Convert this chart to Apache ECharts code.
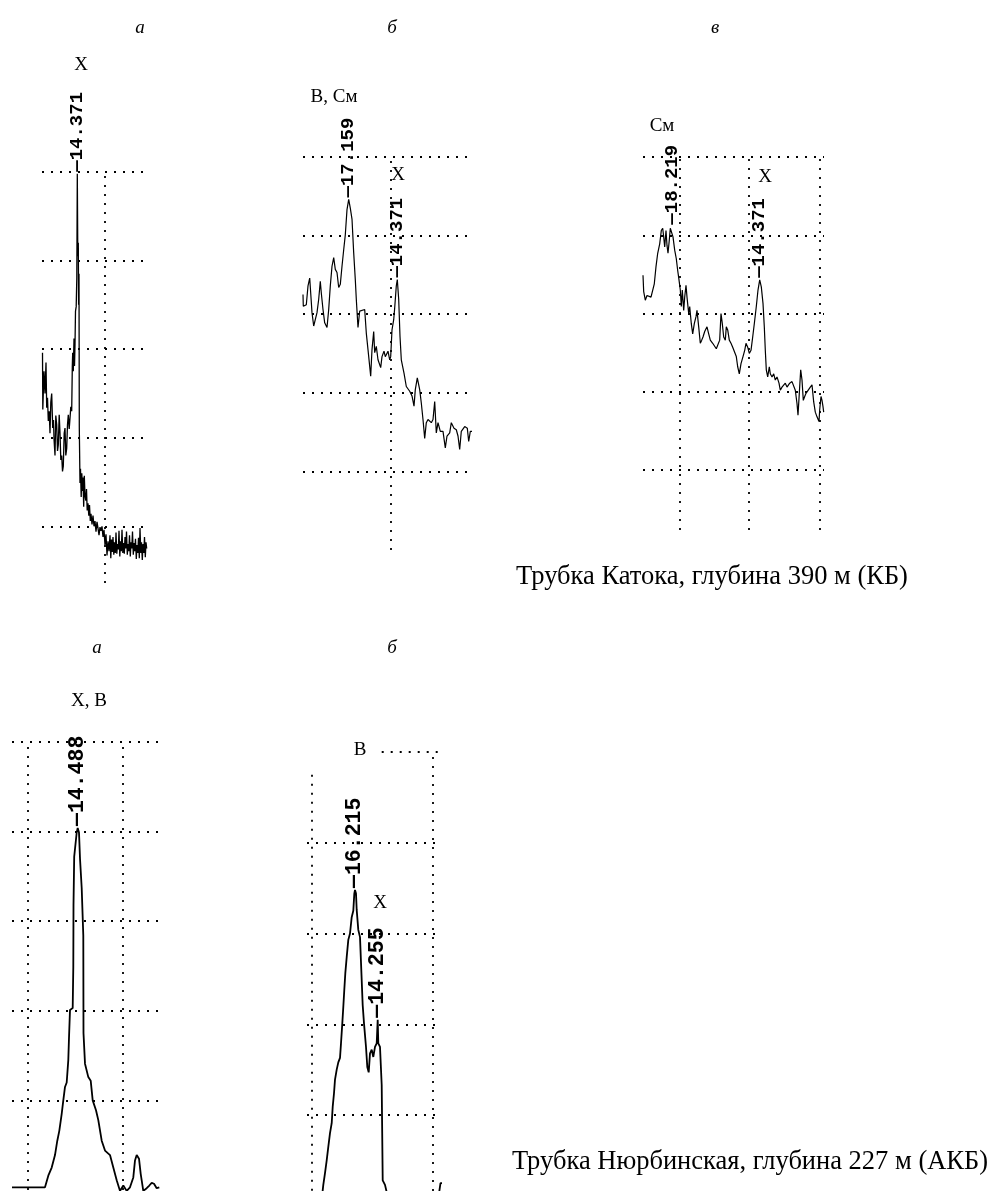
<!DOCTYPE html>
<html><head><meta charset="utf-8">
<script src="https://cdn.jsdelivr.net/npm/echarts@6/dist/echarts.min.js"></script>
<style>html,body{margin:0;padding:0;background:#fff}#c{width:995px;height:1191px}</style>
</head><body><div id="c"></div>
<script>
// ---- DATA (channel, intensity in relative units) ----
// Трубка Катока, а
const katokaA = [[0.5,29.6],[0.8,23.2],[2,27.5],[3,25.0],[4,28.5],[4.7,23.4],[5.5,24.5],[6.3,21.9],[7.2,23.0],[8,20.5],[8.8,24.0],[9.7,25.0],[10.7,21.1],[11.5,22.0],[12,19.9],[13,18.0],[13.8,22.5],[14.7,21.5],[15.5,18.5],[16.3,19.2],[17.2,22.6],[18,20.5],[18.8,17.5],[19.7,18.0],[20.5,16.2],[21.3,16.8],[22.2,20.5],[23,21.1],[23.8,18.0],[24.7,18.8],[25.5,21.5],[26.3,22.6],[27.2,21.0],[28,22.2],[28.8,23.5],[29.7,23.0],[30.3,28.0],[30.7,29.6],[31.3,27.5],[32,31.2],[32.5,28.1],[33,30.5],[33.5,34.3],[34.2,34.8],[34.8,38],[35.3,49.8],[35.8,40.5],[36.3,42.0],[36.6,35.0],[37,38.5],[37.3,21.1],[38,14.9],[38.5,16.5],[39.2,13.3],[39.8,16.0],[40.5,14.0],[41,15.5],[41.7,12.2],[42.3,15.7],[43,13.5],[43.8,12.9],[44.5,14.2],[45.2,11.8],[46,12.6],[46.8,11.2],[47.5,12.4],[48.3,10.6],[49,11.4],[50,10.2],[51,11.2],[52,10.0],[53,10.6],[54,9.4],[55,10.5],[56,9.8],[57,9.0],[58,9.9],[59,9.5],[60,10.0],[61,8.8],[62,9.6],[63,7.9],[64,9.1],[65,6.7],[66,8.3],[67,7.2],[68,9.0],[68.8,6.4],[69.5,8.5],[70.3,7.1],[71,8.8],[71.8,6.8],[72.5,8.2],[73.3,7.0],[74,9.3],[74.8,6.9],[75.5,8.0],[76.3,7.4],[77,9.5],[77.8,6.6],[78.5,8.3],[79.3,7.2],[80,9.6],[80.8,7.0],[81.5,8.1],[82.3,6.9],[83,8.8],[83.8,7.5],[84.5,9.4],[85.3,6.8],[86,8.0],[86.8,7.2],[87.5,9.0],[88.3,6.6],[89,8.2],[89.8,7.5],[90.5,9.4],[91.3,6.8],[92,8.1],[92.8,7.2],[93.5,8.6],[94.3,6.3],[95,7.9],[95.8,7.0],[96.5,8.7],[97.3,6.4],[98,9.8],[98.8,7.0],[99.5,8.2],[100.3,6.2],[101,8.0],[101.8,7.0],[102.5,8.8],[103.3,6.5],[104,8.2],[104.7,7.5]];
// Трубка Катока, б
const katokaB = [[0,32.5],[0.3,31.0],[3.3,31.2],[5,33.6],[6.7,34.6],[7.7,32.7],[9,30.2],[10.7,28.5],[12.3,28.5],[14,30.2],[15.7,31.9],[17.3,34.2],[18.3,32.7],[20,30.6],[21.7,28.9],[24,28.3],[25.7,30.6],[27.3,33.6],[29,36.1],[30.7,37.2],[32.3,35.7],[34,35.3],[35.7,33.4],[37.3,33.8],[39,36.1],[40.7,38.2],[42.3,40.1],[44,43.3],[45.7,44.6],[47.3,43.5],[49,42.1],[50.7,37.8],[52.3,34.4],[53.3,31.9],[55,28.3],[56.7,30.4],[58.3,30.6],[61.7,30.6],[63.3,27.6],[65,25.5],[67.7,22.1],[69,25.5],[70.7,27.8],[71.7,25.1],[73.3,25.9],[75,24.2],[77.7,23.2],[79,24.6],[81,25.3],[82.3,24.6],[85,25.3],[86.7,24.2],[87.7,24.6],[89,28.0],[90.7,29.3],[91.7,30.8],[93.3,33.6],[94.3,34.4],[95.7,31.9],[97,27.2],[98.3,24.2],[101,22.5],[103.3,20.8],[106.7,20.2],[109,19.6],[111,18.3],[112.3,20.4],[114.3,21.9],[116.7,20.4],[118.3,18.7],[120,16.6],[121.7,14.2],[123.3,16.2],[125,16.6],[128.3,16.2],[130,16.6],[131.7,18.9],[133.3,14.9],[135,16.2],[137.3,15.1],[140,15.1],[142.3,13.0],[144,14.5],[146.7,14.9],[148.3,16.2],[151,15.5],[153.3,15.3],[155,14.5],[156.7,12.8],[158.3,15.1],[160,15.3],[161.7,15.7],[164.3,15.5],[165.7,13.8],[167.3,15.1],[169,15.1]];
// Трубка Катока, в
const katokaV = [[0,34.9],[0.7,32.8],[2.3,31.7],[4,32.3],[5.7,32.1],[8,32.1],[10,32.3],[11.3,33.8],[13,36.0],[14.7,37.7],[16.7,38.9],[18.3,40.6],[19.7,40.9],[20.7,39.8],[21.7,38.5],[23,40.6],[24,38.7],[25,37.7],[26.3,39.4],[27.3,40.9],[29,41.1],[30,39.8],[31.7,38.1],[33.3,37.0],[34.7,35.5],[36,34.3],[37.3,33.0],[38.3,30.9],[39.3,33.0],[40.7,30.4],[41.7,32.1],[43,33.6],[44,32.1],[45.7,30.0],[46.7,30.9],[48.3,28.7],[49.7,27.4],[51.3,28.7],[53,29.6],[54,30.4],[55.7,28.3],[57.3,26.2],[58.7,26.6],[60,27.0],[61.7,27.7],[64,28.3],[65.7,27.4],[67.3,26.6],[69.7,26.2],[71.3,26.0],[73.3,25.5],[75.3,25.3],[76.7,26.6],[78,30.0],[79.3,28.7],[80.7,27.0],[82.3,26.6],[83.3,28.3],[84.7,27.9],[86.3,26.6],[88,26.2],[89.7,25.7],[91.3,25.5],[93.3,24.5],[94.7,23.2],[96.3,22.3],[98,23.6],[100,24.5],[101.7,25.3],[103,26.2],[104.7,25.7],[106.3,24.9],[108,25.3],[109.7,27.0],[111.3,28.7],[113.3,30.9],[115,33.0],[116.7,34.3],[118.3,33.4],[120,31.3],[121.3,28.3],[122.3,25.3],[123.3,22.8],[124.7,21.9],[126.3,23.2],[127.3,22.3],[129,21.9],[130.7,22.3],[132.3,21.5],[134,21.9],[136,21.1],[137.3,20.2],[139,20.6],[140.7,20.6],[142.3,21.1],[144,20.6],[146.7,21.1],[149,21.3],[150.7,21.1],[152.3,20.2],[154,18.5],[155,17.0],[156.3,19.8],[157.7,22.8],[159,21.5],[160.3,18.9],[161.7,19.4],[163,19.8],[165,19.6],[167.3,20.6],[169,20.9],[170.7,18.7],[172.3,17.4],[174,16.8],[176,16.2],[176.7,17.7],[178,19.4],[179,18.9],[180,18.1],[180.7,17.4]];
// Трубка Нюрбинская, а
const nyurbaA = [[0,0.3],[33,0.3],[36.3,1.6],[39.7,2.5],[43,3.9],[45.3,5.5],[47.3,6.6],[49.7,8.5],[51.3,10.0],[53,11.5],[54.7,12.0],[56.3,14.5],[57,17.0],[58,20.1],[60.7,20.3],[61.3,24.9],[61.5,31.8],[62,31.8],[62.2,37.2],[64,37.2],[64.7,39.9],[65.7,40.4],[67,39.9],[68,37.0],[69,37.0],[69.7,33.7],[70.7,33.5],[71.3,28.4],[71.5,17.5],[73,14.1],[76.3,12.6],[78.7,12.2],[80.7,10.0],[84,8.9],[86.3,7.8],[89.7,5.5],[93,4.4],[98,3.9],[101.3,2.5],[104.7,1.1],[108,-0.1],[111.3,0.5],[114.7,-0.1],[118,0.3],[121.3,1.4],[123,3.3],[124.7,3.9],[127,3.5],[128.7,1.8],[131.3,-0.1],[134.7,0.2],[137.3,0.5],[139.7,0.8],[142,0.7],[144.7,0.2],[147.3,0.3]];
// Трубка Нюрбинская, б
const nyurbaB = [[15.5,1.5],[16.3,2.3],[18,3.6],[19.7,5.0],[21.3,6.5],[23,8.0],[24.7,9.1],[25.7,10.9],[27,12.4],[28,13.9],[29.7,15.0],[31.3,15.8],[33,16.3],[34,17.9],[35.3,20.1],[36.3,21.9],[37.3,23.8],[38.3,25.6],[39.7,27.4],[41.3,29.3],[43,30.0],[44.7,31.8],[46.3,32.5],[47.3,34.4],[48,34.8],[49,34.4],[49.7,32.6],[51.3,30.4],[53,29.6],[54.7,29.5],[55.7,22.1],[57,20.1],[59,17.5],[60.3,15.3],[61.7,14.7],[63,16.8],[64.7,17.2],[66.3,16.4],[68,17.5],[69.7,17.9],[70.7,20.5],[71.3,17.9],[73,17.5],[74.7,13.3],[75.7,2.8],[78,2.3],[79.7,1.5],[83,0.6],[131,0.6],[133.5,2.5],[135,2.5]];

// Peak labels [channel, intensity, text]
const katokaAPeaks = [[35.3, 49.8, '14.371']];
const katokaBPeaks = [[45.7, 44.6, '17.159'], [94.3, 34.4, '14.371']];
const katokaVPeaks = [[29, 41.1, '18.219'], [116.7, 34.3, '14.371']];
const nyurbaAPeaks = [[65.7, 40.4, '14.488']];
const nyurbaBPeaks = [[48, 34.8, '16.215'], [70.7, 20.5, '14.255']];

// Grid line levels
const hLevels = [10, 20, 30, 40, 50];
const hLevelsNyurbaB = [10, 20, 30, 40];

// ---- LAYOUT ----
const dotted = {color:'#000', width:1.8, type:[2,7], cap:'butt'};
const topFont = 'bold 19px "Liberation Mono"';
const botFont = 'bold 21.5px "Liberation Mono"';
const panels = [
  {grid:{left:42, top:172, width:105, height:411}, x:[0,105], y:[3.6,50], data:katokaA, peaks:katokaAPeaks,
   h:hLevels, v:[63], segs:[], lw:1.3, pf:topFont},
  {grid:{left:303, top:157, width:170, height:393}, x:[0,170], y:[0,50], data:katokaB, peaks:katokaBPeaks,
   h:hLevels, v:[87.3], segs:[], lw:1.2, pf:topFont},
  {grid:{left:643, top:157, width:181, height:373}, x:[0,181], y:[2.34,50], data:katokaV, peaks:katokaVPeaks,
   h:hLevels, v:[36.7,105.7,176.7], segs:[], lw:1.2, pf:topFont},
  {grid:{left:12, top:742, width:148, height:448}, x:[0,148], y:[0,50], data:nyurbaA, peaks:nyurbaAPeaks,
   h:hLevels, v:[15.7,110.7], segs:[], lw:1.8, pf:botFont},
  {grid:{left:307, top:752, width:135, height:439}, x:[0,135], y:[1.63,50], data:nyurbaB, peaks:nyurbaBPeaks,
   h:hLevelsNyurbaB, v:[125.7], segs:[[[74.7,50],[133,50]], [[4.7,47.5],[4.7,1.63]]], lw:1.8, pf:botFont}
];

const chart = echarts.init(document.getElementById('c'), null, {renderer:'canvas'});
const option = {
  animation:false, backgroundColor:'#fff',
  grid: panels.map(p => Object.assign({containLabel:false}, p.grid)),
  xAxis: panels.map((p,i) => ({type:'value', gridIndex:i, min:p.x[0], max:p.x[1], show:false})),
  yAxis: panels.map((p,i) => ({type:'value', gridIndex:i, min:p.y[0], max:p.y[1], show:false})),
  series: panels.map((p,i) => ({
    type:'line', xAxisIndex:i, yAxisIndex:i, data:p.data, showSymbol:false, symbol:'none',
    lineStyle:{color:'#000', width:p.lw}, silent:true,
    markLine:{silent:true, symbol:['none','none'], label:{show:false}, lineStyle:dotted, animation:false,
      data: p.h.map(v => ({yAxis:v})).concat(p.v.map(v => ({xAxis:v})))
        .concat(p.segs.map(s => [{coord:s[0]}, {coord:s[1]}]))}
  }))
};
chart.setOption(option);

const serif = '19px "Liberation Serif", "Times New Roman", serif';
const ital = 'italic 19px "Liberation Serif", "Times New Roman", serif';
const titleFont = '26.5px "Liberation Serif", "Times New Roman", serif';
function txt(t, x, y, font, align) {
  return {type:'text', x:x, y:y, silent:true,
    style:{text:t, font:font, fill:'#000', textAlign:align||'center', textVerticalAlign:'middle',
      align:align||'center', verticalAlign:'middle'}};
}
const g = [];
panels.forEach((p,i) => {
  p.peaks.forEach(pk => {
    const px = chart.convertToPixel({gridIndex:i}, [pk[0], pk[1]]);
    g.push({type:'text', x:px[0], y:px[1]-2, rotation:Math.PI/2, silent:true,
      style:{text:'\u2014' + pk[2], font:p.pf, fill:'#000', textAlign:'left', textVerticalAlign:'middle',
        align:'left', verticalAlign:'middle'}});
  });
});
g.push(txt('а', 140, 28, ital), txt('б', 392, 28, ital), txt('в', 715, 28, ital));
g.push(txt('а', 97, 648, ital), txt('б', 392, 648, ital));
g.push(txt('X', 81, 65, serif), txt('В, См', 334, 97, serif), txt('См', 662, 126, serif),
       txt('X', 398, 175, serif), txt('X', 765, 177, serif));
g.push(txt('X, В', 89, 701, serif), txt('В', 360, 750, serif), txt('X', 380, 903, serif));
g.push(txt('Трубка Катока, глубина 390 м (КБ)', 712, 577, titleFont));
g.push(txt('Трубка Нюрбинская, глубина 227 м (АКБ)', 750, 1162, titleFont));
chart.setOption({graphic:{elements:g}});
</script>
</body></html>
